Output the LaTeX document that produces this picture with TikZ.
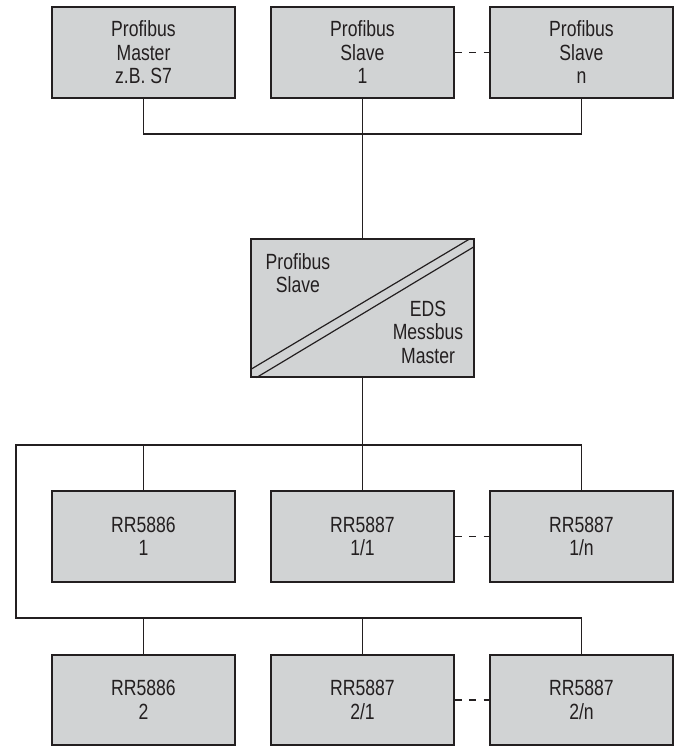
\documentclass[tikz,border=0pt]{standalone}
\usepackage{fontspec}
\setmainfont{Liberation Sans}[FakeStretch=0.8]
\usepackage{tikz}
\usetikzlibrary{calc}

\definecolor{boxgray}{RGB}{209,211,212}
\definecolor{inkgray}{RGB}{35,31,32}

\begin{document}
\begin{tikzpicture}[x=1pt, y=-1pt, line width=1.2pt, draw=inkgray,
    unit/.style={draw=inkgray, fill=boxgray, minimum width=183pt, minimum height=91pt,
        inner sep=0pt, align=center, text=inkgray, font=\fontsize{22}{23.5}\selectfont},
    label/.style={align=center, text=inkgray, font=\fontsize{22}{23.5}\selectfont},
    gap/.style={dashed, dash pattern=on 7pt off 7.5pt}]
            \useasboundingbox (0,0) rectangle (683,746);

            % Profibus side
            \node[unit] (master) at (143.5,52.5) {Profibus\\Master\\z.B. S7};
            \node[unit] (slave1) at (362.5,52.5) {Profibus\\Slave\\1};
            \node[unit] (slaveN) at (581.5,52.5) {Profibus\\Slave\\n};
            \draw[gap] (slave1) -- (slaveN);

            \coordinate (busP) at (362.5,134);
            \draw (master) -- (master |- busP) -- (slaveN |- busP) -- (slaveN);

            % gateway
            \node[unit, minimum width=223pt, minimum height=138pt] (coupler) at (362.5,308) {};
            \draw ($(coupler.south west)+(0,-8)$) -- ($(coupler.north east)+(-4,0)$);
            \draw ($(coupler.south west)+(6,0)$) -- ($(coupler.north east)+(0,8)$);
            \node[label] (upper) at (298,273) {Profibus\\Slave};
            \node[label] (lower) at (428,332) {EDS\\Messbus\\Master};
            \draw (slave1) -- (coupler);

            % EDS Messbus
            \node[unit] (rrA1) at (143.5,536.5) {RR5886\\1};
            \node[unit] (rrA2) at (362.5,536.5) {RR5887\\1/1};
            \node[unit] (rrAn) at (581.5,536.5) {RR5887\\1/n};
            \node[unit, minimum height=90pt] (rrB1) at (143.5,700) {RR5886\\2};
            \node[unit, minimum height=90pt] (rrB2) at (362.5,700) {RR5887\\2/1};
            \node[unit, minimum height=90pt] (rrBn) at (581.5,700) {RR5887\\2/n};
            \draw[gap] (rrA2) -- (rrAn);
            \draw[gap] (rrB2) -- (rrBn);

            \coordinate (busM) at (16,445);
            \coordinate (busL) at (16,618);
            \draw (busL -| rrBn) -- (busL) -- (busM) -- (busM -| rrAn);
            \draw (coupler) -- (coupler |- busM);
            \foreach \n in {rrA1,rrA2,rrAn} \draw (\n) -- (\n |- busM);
            \foreach \n in {rrB1,rrB2,rrBn} \draw (\n) -- (\n |- busL);
        \end{tikzpicture}
\end{document}
